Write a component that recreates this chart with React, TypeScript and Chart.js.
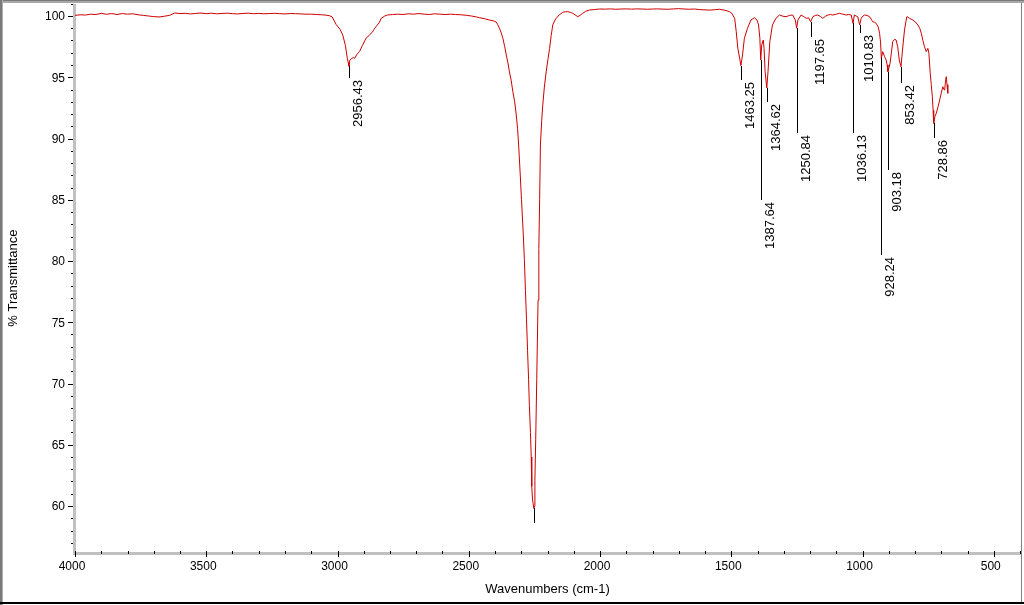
import React, { useEffect, useRef } from "react";
import { Chart, registerables } from "chart.js";

Chart.register(...registerables);

// IR spectrum: [wavenumber (cm-1), % transmittance]
const spectrum: [number, number][] = [
  [4000, 100.05], [3980, 100.1], [3960, 100.08], [3940, 100.15], [3920, 100.12], [3900, 100.22],
  [3880, 100.14], [3860, 100.2], [3840, 100.12], [3820, 100.2], [3800, 100.15], [3780, 100.18],
  [3760, 100.1], [3740, 100.05], [3720, 100.0], [3700, 99.95], [3680, 99.92], [3660, 99.98],
  [3640, 100.05], [3620, 100.25], [3600, 100.2], [3580, 100.22], [3560, 100.17], [3540, 100.21],
  [3520, 100.24], [3500, 100.19], [3480, 100.23], [3460, 100.18], [3440, 100.21], [3420, 100.23],
  [3400, 100.19], [3380, 100.17], [3360, 100.21], [3340, 100.23], [3320, 100.19], [3300, 100.21],
  [3280, 100.18], [3260, 100.2], [3240, 100.22], [3220, 100.19], [3200, 100.17], [3180, 100.2],
  [3160, 100.19], [3140, 100.17], [3120, 100.15], [3100, 100.15], [3080, 100.12], [3060, 100.1],
  [3040, 100.06], [3030, 100.02], [3020, 99.92], [3005, 99.3], [2990, 98.9], [2980, 98.45],
  [2970, 97.6], [2963, 96.6], [2959, 96.2], [2956.43, 95.9], [2953, 96.4], [2948, 96.5],
  [2940, 96.6], [2935, 96.55], [2925, 96.9], [2916, 97.1], [2905, 97.6], [2891, 98.2],
  [2880, 98.4], [2867, 98.7], [2858, 99.0], [2848, 99.27], [2840, 99.5], [2834, 99.8],
  [2820, 100.0], [2810, 100.08], [2790, 100.12], [2770, 100.15], [2750, 100.12], [2730, 100.18],
  [2710, 100.15], [2690, 100.2], [2670, 100.15], [2650, 100.12], [2630, 100.18], [2610, 100.15],
  [2590, 100.12], [2570, 100.15], [2550, 100.12], [2530, 100.1], [2510, 100.06], [2490, 100.0],
  [2470, 99.92], [2459, 99.86], [2440, 99.78], [2421, 99.67], [2405, 99.6], [2395, 99.5],
  [2390, 99.3], [2383, 99.0], [2376, 98.6], [2370, 98.18], [2363, 97.5], [2357, 96.82],
  [2351, 96.2], [2345, 95.45], [2338, 94.7], [2332, 93.82], [2325, 93.0], [2319, 91.92],
  [2314, 90.8], [2310, 89.47], [2305, 87.5], [2299, 85.0], [2293, 82.5], [2288, 80.1],
  [2284, 77.6], [2280, 75.2], [2276, 72.7], [2272, 70.3], [2269, 68.2], [2265, 66.0],
  [2262, 64.0], [2260, 61.6], [2257, 60.5], [2252, 59.8], [2249.5, 60.0], [2248, 62.1],
  [2245, 65.4], [2241, 70.3], [2236, 76.8], [2233, 81.0], [2230, 85.0], [2227, 89.47],
  [2222, 91.5], [2218, 92.73], [2212, 94.2], [2205, 95.45], [2198, 96.5], [2192, 97.36],
  [2186, 98.4], [2180, 99.27], [2173, 99.6], [2167, 99.81], [2155, 100.1], [2142, 100.3],
  [2132, 100.35], [2123, 100.35], [2113, 100.3], [2104, 100.22], [2095, 100.1], [2085, 99.94],
  [2076, 100.05], [2066, 100.22], [2055, 100.38], [2040, 100.49], [2020, 100.53], [2002, 100.57],
  [1980, 100.56], [1960, 100.58], [1940, 100.55], [1920, 100.57], [1900, 100.58], [1880, 100.56],
  [1860, 100.58], [1840, 100.57], [1820, 100.55], [1800, 100.57], [1780, 100.58], [1760, 100.56],
  [1740, 100.55], [1720, 100.58], [1700, 100.6], [1680, 100.57], [1660, 100.55], [1640, 100.57],
  [1620, 100.52], [1600, 100.5], [1580, 100.48], [1560, 100.52], [1545, 100.55], [1520, 100.45],
  [1507, 100.35], [1499, 100.25], [1487, 99.81], [1481, 98.72], [1475, 97.36], [1468, 96.55],
  [1463.25, 95.95], [1457, 96.82], [1450, 98.18], [1438, 99.0], [1425, 99.67], [1412, 99.86],
  [1402, 99.67], [1396, 99.27], [1391, 98.18], [1387.64, 96.4], [1384, 97.63], [1378, 98.04],
  [1375, 97.36], [1371, 95.45], [1364.62, 94.12], [1360, 95.45], [1353, 97.9], [1343, 99.27],
  [1330, 99.81], [1316, 100.08], [1303, 99.98], [1291, 99.94], [1278, 100.05], [1266, 100.08],
  [1256, 99.67], [1250.84, 99.0], [1246, 99.67], [1234, 100.08], [1224, 99.95], [1214, 99.81],
  [1205, 99.85], [1197.65, 99.53], [1189, 99.94], [1180, 100.05], [1170, 100.08], [1160, 99.95],
  [1151, 99.81], [1140, 100.0], [1132, 100.08], [1122, 100.12], [1113, 100.08], [1100, 100.15],
  [1088, 100.22], [1075, 100.15], [1062, 100.08], [1052, 100.12], [1043, 100.08], [1036.13, 99.4],
  [1031, 100.08], [1024, 100.0], [1018, 99.94], [1010.83, 99.27], [1005, 99.81], [998, 100.0],
  [992, 100.08], [983, 100.05], [973, 99.94], [967, 99.75], [961, 99.53], [955, 99.5],
  [948, 99.4], [940, 99.1], [935, 98.59], [931, 97.8], [928.24, 96.55], [923, 97.09],
  [916, 96.68], [910, 96.41], [906, 96.0], [903.18, 95.45], [899, 95.8], [895, 96.14],
  [890, 97.0], [885, 97.9], [878, 98.1], [872, 98.04], [866, 97.5], [860, 96.41],
  [853.42, 95.86], [850, 96.68], [845, 97.8], [840, 98.86], [835, 99.5], [831, 99.94],
  [826, 99.9], [821, 99.81], [815, 99.75], [808, 99.67], [798, 99.5], [789, 99.27],
  [782, 99.0], [776, 98.59], [770, 98.0], [764, 97.5], [757, 97.09], [751, 97.36],
  [747, 96.96], [742, 95.32], [738, 94.4], [734, 93.41], [731, 92.3], [728.86, 91.24],
  [724, 91.8], [719, 92.06], [712, 92.6], [706, 93.14], [700, 93.7], [694, 94.23],
  [690, 94.0], [687, 93.96], [684, 94.6], [681, 95.05], [678, 94.4], [675, 93.69],
];

// Peak picks
const peakPositions = [2956.43, 2252, 1463.25, 1387.64, 1364.62, 1250.84, 1197.65, 1036.13, 1010.83, 928.24, 903.18, 853.42, 728.86];
const peakLabels = ["2956.43", "", "1463.25", "1387.64", "1364.62", "1250.84", "1197.65", "1036.13", "1010.83", "928.24", "903.18", "853.42", "728.86"];
// where each leader line ends (in % transmittance)
const leaderEnds = [94.94, 58.61, 94.78, 84.98, 92.98, 90.45, 98.29, 90.45, 98.61, 80.49, 87.43, 94.53, 90.04];

const xTickLabels = [4000, 3500, 3000, 2500, 2000, 1500, 1000, 500];
const yTickLabels = [100, 95, 90, 85, 80, 75, 70, 65, 60];
const xTitle = "Wavenumbers (cm-1)";
const yTitle = "% Transmittance";

const FONT = '"Liberation Sans", Arial, sans-serif';

const irPlugin = {
  id: "irDecor",
  beforeDraw(chart: any) {
    const { ctx, width, height } = chart;
    ctx.save();
    ctx.fillStyle = "#ffffff";
    ctx.fillRect(0, 0, width, height);
    ctx.restore();
  },
  beforeDatasetsDraw(chart: any) {
    const { ctx, chartArea: a, scales } = chart;
    const xs = scales.x;
    const ys = scales.y;
    ctx.save();
    // axis bars
    ctx.fillStyle = "#c0c0c0";
    ctx.fillRect(a.left - 2, a.top, 3, a.bottom - a.top + 2);
    ctx.fillRect(a.left - 2, Math.round(a.bottom) - 1, a.right - a.left + 3, 3);

    ctx.fillStyle = "#000000";
    // y ticks
    for (let v = Math.ceil(ys.min); v <= Math.floor(ys.max); v++) {
      const py = Math.round(ys.getPixelForValue(v));
      if (v % 5 === 0) ctx.fillRect(a.left - 7, py, 5, 1);
      else ctx.fillRect(a.left - 4, py, 2, 1);
    }
    // x ticks
    for (let v = 4000; v >= xs.min; v -= 100) {
      const px = Math.round(xs.getPixelForValue(v));
      if (v % 500 === 0) ctx.fillRect(px, Math.round(a.bottom) - 2, 1, 6);
      else ctx.fillRect(px, Math.round(a.bottom) - 2, 1, 3);
    }
    // tick labels
    ctx.font = `12px ${FONT}`;
    ctx.textAlign = "right";
    ctx.textBaseline = "middle";
    yTickLabels.forEach((v) => {
      ctx.fillText(String(v), a.left - 10, ys.getPixelForValue(v) + 1);
    });
    ctx.textAlign = "center";
    xTickLabels.forEach((v) => {
      ctx.fillText(String(v), xs.getPixelForValue(v) - 3, a.bottom + 14);
    });
    // titles
    ctx.font = `13px ${FONT}`;
    ctx.fillText(xTitle, (a.left + a.right) / 2, a.bottom + 37);
    ctx.save();
    ctx.translate(13, (a.top + a.bottom) / 2);
    ctx.rotate(-Math.PI / 2);
    ctx.fillText(yTitle, 0, 0);
    ctx.restore();
    ctx.restore();
  },
  afterDatasetsDraw(chart: any) {
    const { ctx, scales } = chart;
    const xs = scales.x;
    const ys = scales.y;
    ctx.save();
    ctx.fillStyle = "#000000";
    ctx.font = `13px ${FONT}`;
    peakPositions.forEach((wn, i) => {
      const pt = spectrum.find((p) => p[0] === wn);
      const t = pt ? pt[1] : 100;
      const px = Math.round(xs.getPixelForValue(wn));
      const y1 = Math.round(ys.getPixelForValue(t));
      const y2 = Math.round(ys.getPixelForValue(leaderEnds[i]));
      ctx.fillRect(px, y1, 1, y2 - y1);
      if (peakLabels[i]) {
        ctx.save();
        ctx.translate(px + 9, y2 + 2);
        ctx.rotate(-Math.PI / 2);
        ctx.textAlign = "right";
        ctx.textBaseline = "middle";
        ctx.fillText(peakLabels[i], 0, 0);
        ctx.restore();
      }
    });
    ctx.restore();
  },
  afterDraw(chart: any) {
    const { ctx, width, height } = chart;
    ctx.save();
    // window-like frame
    ctx.fillStyle = "#a8a8a8";
    ctx.fillRect(0, 0, width, 3);
    ctx.fillStyle = "#7a7a7a";
    ctx.fillRect(0, 0, width, 1);
    ctx.fillRect(0, 0, 2, height);
    ctx.fillStyle = "#b0b0b0";
    ctx.fillRect(2, 0, 1, height);
    ctx.fillStyle = "#808080";
    ctx.fillRect(1021, 3, 1, height - 6);
    ctx.fillStyle = "#000000";
    ctx.fillRect(0, 602, width, 2);
    ctx.restore();
  },
};

export default function App() {
  const ref = useRef<HTMLCanvasElement | null>(null);
  useEffect(() => {
    if (!ref.current) return;
    const chart = new Chart(ref.current, {
      type: "line",
      data: {
        datasets: [
          {
            data: spectrum.map(([x, y]) => ({ x, y })),
            borderColor: "#cc0000",
            borderWidth: 1,
            pointRadius: 0,
            tension: 0,
            fill: false,
          },
        ],
      },
      options: {
        animation: false,
        responsive: false,
        events: [],
        layout: { padding: { left: 75, right: 4, top: 3.75, bottom: 52.45 } },
        plugins: { legend: { display: false }, tooltip: { enabled: false } },
        scales: {
          x: { type: "linear", reverse: true, min: 400, max: 4000, display: false },
          y: { type: "linear", min: 56.2, max: 101, display: false },
        },
      },
      plugins: [irPlugin],
    });
    return () => chart.destroy();
  }, []);
  return (
    <div style={{ position: "fixed", left: 0, top: 0, width: 1024, height: 605 }}>
      <canvas ref={ref} width={1024} height={605} style={{ display: "block" }} />
    </div>
  );
}
